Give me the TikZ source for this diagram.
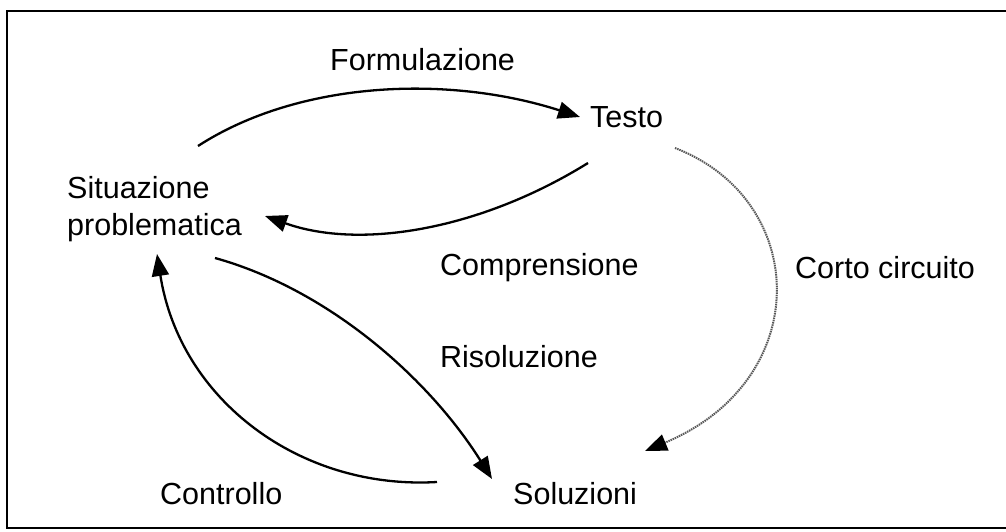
\documentclass[tikz,border=0pt]{standalone}
\usepackage{fontspec}
\setmainfont{Liberation Sans}
\usetikzlibrary{arrows.meta}
\begin{document}
\begin{tikzpicture}[x=1pt,y=-1pt,
  lbl/.style={inner sep=0pt,font=\fontsize{30.5}{37}\selectfont},
  flow/.style={line width=2.3pt,-{Triangle[length=22pt,width=17pt]}},
  shortcut/.style={line width=2pt,dash pattern=on 1.5pt off 0.8pt,black!65,-{Triangle[length=22pt,width=17pt,black]}},
  frameline/.style={line width=2pt}]
\useasboundingbox (0,0) rectangle (1006,532);
\draw[frameline] (1006,11) -- (7,11) -- (7,528) -- (1006,528);
% labels
\node[lbl,anchor=west] (form) at (330,60) {Formulazione};
\node[lbl,anchor=west] (testo) at (590,117) {Testo};
\node[lbl,anchor=west,align=left] (sit) at (67,209) {Situazione\\problematica};
\node[lbl,anchor=west] (comp) at (440,268) {Comprensione};
\node[lbl,anchor=west] (corto) at (795,268) {Corto circuito};
\node[lbl,anchor=west] (ris) at (440,357) {Risoluzione};
\node[lbl,anchor=west] (contr) at (160,494) {Controllo};
\node[lbl,anchor=west] (sol) at (513,494) {Soluzioni};
% connector end points
\coordinate (f1) at (198,146); \coordinate (f2) at (580,117);
\coordinate (c1) at (588,163); \coordinate (c2) at (265,216);
\coordinate (r1) at (215,258); \coordinate (r2) at (492,479);
\coordinate (k1) at (437,482); \coordinate (k2) at (157,254);
\coordinate (s1) at (675,148); \coordinate (s2) at (645,451);
% connectors
\draw[flow] (f1) .. controls (300,80) and (450,75) .. (f2);
\draw[flow] (c1) .. controls (480,230) and (360,250) .. (c2);
\draw[flow] (r1) .. controls (330,290) and (430,380) .. (r2);
\draw[flow] (k1) .. controls (300,490) and (180,400) .. (k2);
\draw[shortcut] (s1) .. controls (810,200) and (815,380) .. (s2);
\end{tikzpicture}
\end{document}
